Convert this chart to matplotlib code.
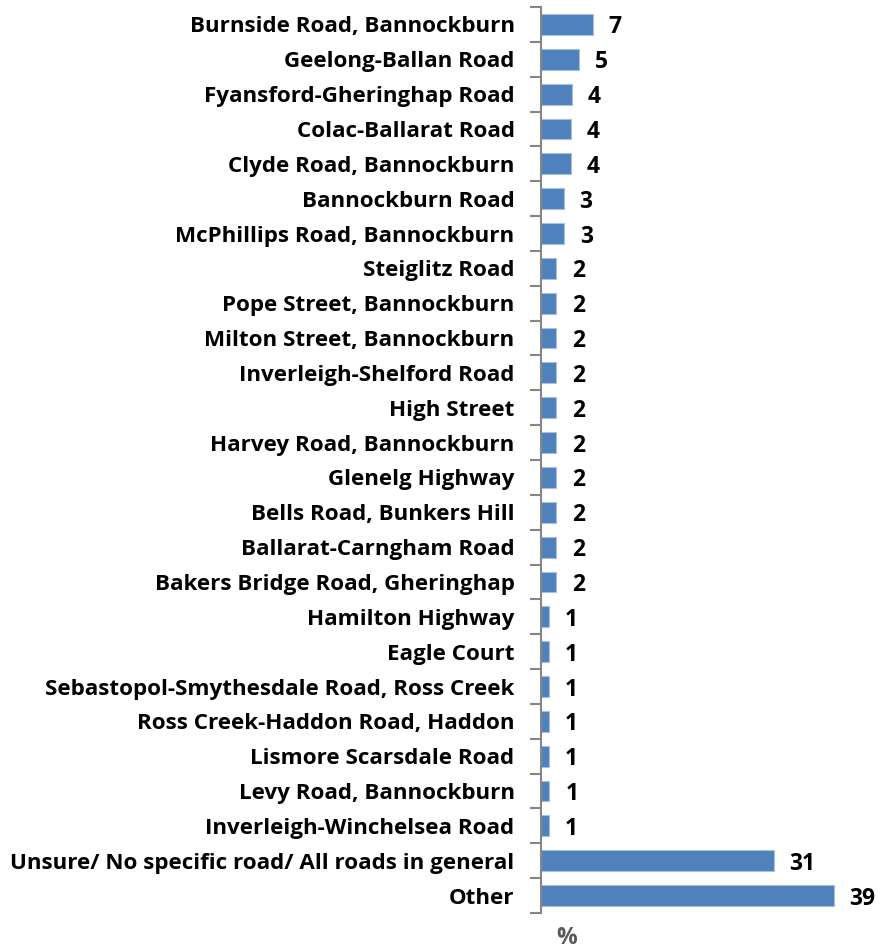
import matplotlib
matplotlib.use("Agg")
import matplotlib.pyplot as plt
from matplotlib.transforms import offset_copy

categories = [
    "Burnside Road, Bannockburn",
    "Geelong-Ballan Road",
    "Fyansford-Gheringhap Road",
    "Colac-Ballarat Road",
    "Clyde Road, Bannockburn",
    "Bannockburn Road",
    "McPhillips Road, Bannockburn",
    "Steiglitz Road",
    "Pope Street, Bannockburn",
    "Milton Street, Bannockburn",
    "Inverleigh-Shelford Road",
    "High Street",
    "Harvey Road, Bannockburn",
    "Glenelg Highway",
    "Bells Road, Bunkers Hill",
    "Ballarat-Carngham Road",
    "Bakers Bridge Road, Gheringhap",
    "Hamilton Highway",
    "Eagle Court",
    "Sebastopol-Smythesdale Road, Ross Creek",
    "Ross Creek-Haddon Road, Haddon",
    "Lismore Scarsdale Road",
    "Levy Road, Bannockburn",
    "Inverleigh-Winchelsea Road",
    "Unsure/ No specific road/ All roads in general",
    "Other",
]
values = [6.9, 5.1, 4.1, 4.0, 4.0, 3.0, 3.1, 2.0, 2.0, 2.0, 2.0, 2.0, 2.0,
          2.0, 2.0, 2.0, 2.0, 1.0, 1.0, 1.0, 1.0, 1.0, 1.1, 1.0, 31.0, 39.0]
value_labels = ["7", "5", "4", "4", "4", "3", "3", "2", "2", "2", "2", "2", "2",
                "2", "2", "2", "2", "1", "1", "1", "1", "1", "1", "1", "31", "39"]

plt.rcParams['font.family'] = ['Open Sans', 'DejaVu Sans']

W, H = 880, 952
fig = plt.figure(figsize=(W / 100, H / 100), dpi=100)
ax_left, ax_right = 541, 841
ax_top, ax_bottom = 7, 913
ax = fig.add_axes([ax_left / W, 1 - ax_bottom / H, (ax_right - ax_left) / W, (ax_bottom - ax_top) / H])

n = len(categories)
y = list(range(n))
ax.barh(y, values, height=0.6, color="#4F81BD", edgecolor="#A7C0DE", linewidth=0.8, zorder=2)
ax.set_ylim(n - 0.5, -0.5)
ax.set_xlim(0, 40)

ax.set_yticks(y)
ax.set_yticklabels(categories, fontsize=16.1, fontweight="bold", color="black")
for t in ax.get_yticklabels():
    t.set_verticalalignment("center_baseline")
ax.set_yticks([i - 0.5 for i in range(n + 1)], minor=True)
ax.tick_params(axis="y", which="major", length=0, pad=19)
ax.tick_params(axis="y", which="minor", length=8, width=1.5, color="#868686", direction="out")
ax.set_xticks([])

for s in ["top", "right", "bottom"]:
    ax.spines[s].set_visible(False)
ax.spines["left"].set_color("#868686")
ax.spines["left"].set_linewidth(1.5)

trans = offset_copy(ax.transData, fig=fig, x=16, y=0, units="dots")
for yi, v, lab in zip(y, values, value_labels):
    ax.text(v, yi, lab, transform=trans, ha="left", va="center_baseline",
            fontsize=16.5, fontweight="bold", color="black")

fig.text(567 / W, 1 - 950 / H, "%", ha="center", va="bottom", fontsize=16.5,
         fontweight="bold", color="#595959")

fig.savefig("out.png", dpi=100)
